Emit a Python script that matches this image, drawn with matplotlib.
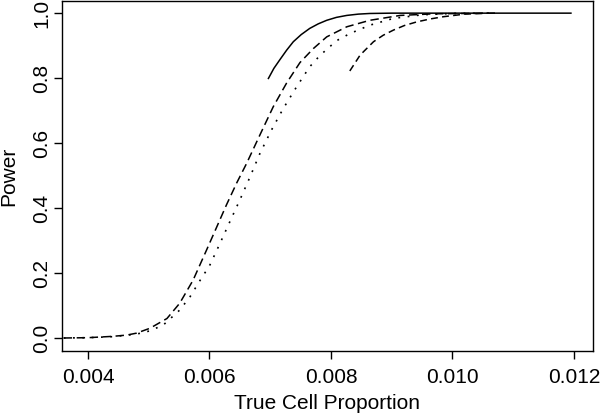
import numpy as np
import matplotlib
matplotlib.use("Agg")
import matplotlib.pyplot as plt

plt.rcParams['font.family'] = ['Liberation Sans', 'DejaVu Sans']

# power curves
long_x = [0.0036, 0.0040, 0.0042, 0.0044, 0.00464, 0.0048, 0.00502, 0.0053,
          0.00551, 0.00573, 0.00595, 0.00612, 0.00628, 0.00645, 0.00661,
          0.00683, 0.00705, 0.00727, 0.00749, 0.00771, 0.00793, 0.00826,
          0.00864, 0.00914, 0.0097, 0.0107]
long_y = [0.0, 0.001, 0.003, 0.005, 0.009, 0.015, 0.03, 0.06,
          0.107, 0.178, 0.27, 0.342, 0.41, 0.478, 0.537,
          0.625, 0.712, 0.785, 0.848, 0.891, 0.927, 0.958,
          0.978, 0.993, 0.998, 1.0]

dot_x = [0.0036, 0.0040, 0.0044, 0.0048, 0.00502, 0.00524, 0.00551, 0.00568,
         0.00587, 0.0060, 0.00617, 0.00634, 0.0065, 0.00667, 0.00683,
         0.00702, 0.00721, 0.00743, 0.00765, 0.00782, 0.00809, 0.00831,
         0.00864, 0.00903, 0.0095, 0.0100, 0.0105]
dot_y = [0.0, 0.001, 0.004, 0.012, 0.022, 0.04, 0.086, 0.127,
         0.185, 0.222, 0.29, 0.36, 0.425, 0.497, 0.568,
         0.64, 0.705, 0.772, 0.835, 0.87, 0.915, 0.937,
         0.963, 0.984, 0.995, 0.999, 1.0]

solid_x = [0.00697, 0.00706, 0.00716, 0.00727, 0.00738, 0.00751, 0.00765,
           0.00779, 0.00793, 0.00809, 0.00826, 0.00845, 0.00864, 0.0090,
           0.0095, 0.01195]
solid_y = [0.799, 0.83, 0.857, 0.886, 0.912, 0.934, 0.953,
           0.967, 0.978, 0.987, 0.993, 0.997, 0.999, 1.0,
           1.0, 1.0]

short_x = [0.00831, 0.00848, 0.0087, 0.00886, 0.00903, 0.00921, 0.00941,
           0.00963, 0.00985, 0.0102, 0.0106]
short_y = [0.822, 0.871, 0.912, 0.932, 0.948, 0.962, 0.973,
           0.982, 0.989, 0.997, 1.0]

x_ticks = [0.004, 0.006, 0.008, 0.010, 0.012]
y_ticks = [0.0, 0.2, 0.4, 0.6, 0.8, 1.0]

fig = plt.figure(figsize=(6, 4.19), dpi=100)
ax = fig.add_axes([0.1033, 0.1623, 0.885, 0.835])

ax.plot(solid_x, solid_y, color='black', lw=1.1)
ax.plot(long_x, long_y, color='black', lw=1.1, dashes=(5.5, 3))
ax.plot(dot_x, dot_y, color='black', lw=1.2, dashes=(1.1, 4.5))
ax.plot(short_x, short_y, color='black', lw=1.1, dashes=(4.5, 2.8))

ax.set_xlim(0.003572, 0.012313)
ax.set_ylim(-0.04, 1.037)
ax.set_xticks(x_ticks)
ax.set_xticklabels(['%.3f' % v for v in x_ticks])
ax.set_yticks(y_ticks)
ax.set_yticklabels(['%.1f' % v for v in y_ticks], rotation=90, va='center')

for s in ax.spines.values():
    s.set_linewidth(1.0)
ax.tick_params(length=5.5, width=1.0, labelsize=15)
ax.tick_params(axis='x', pad=7)
ax.tick_params(axis='y', pad=2)

ax.set_xlabel('True Cell Proportion', fontsize=15, labelpad=5)
ax.set_ylabel('Power', fontsize=15)
ax.yaxis.set_label_coords(-0.083, 0.5)

fig.savefig('out.png', dpi=100)
